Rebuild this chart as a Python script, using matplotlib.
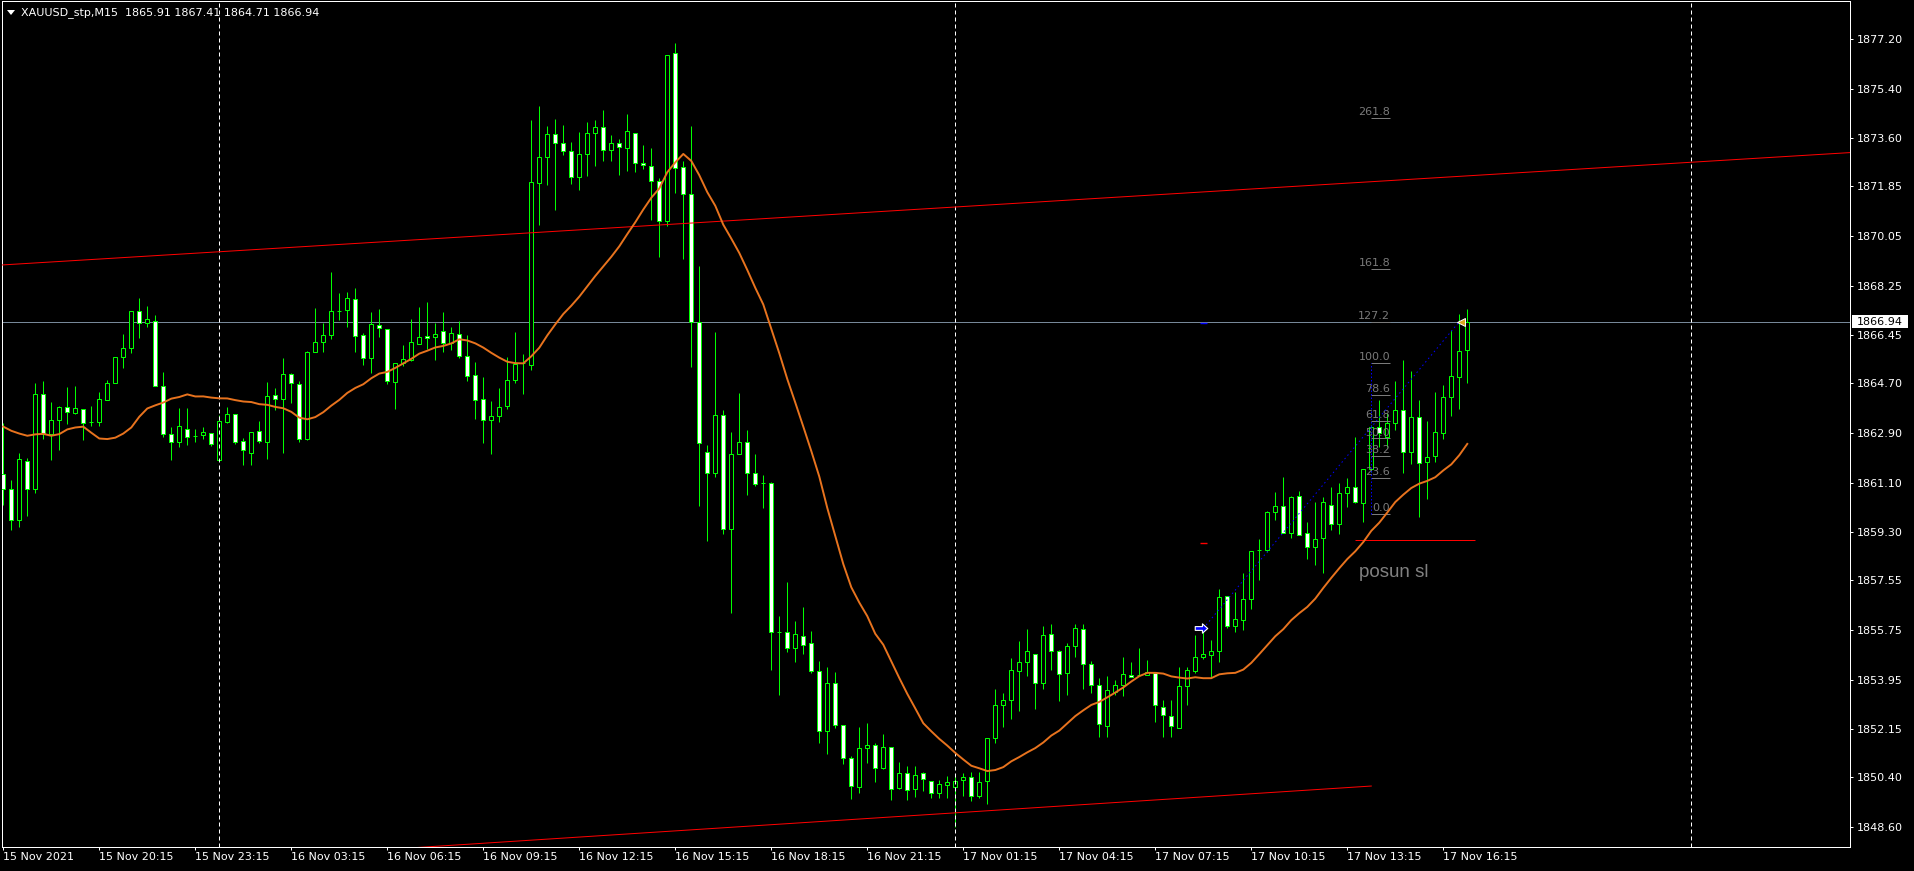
import datetime as dt
import numpy as np
import pandas as pd
import matplotlib
matplotlib.use("Agg")
import matplotlib.pyplot as plt
from matplotlib.path import Path
from matplotlib.patches import Polygon, Rectangle
from matplotlib.transforms import blended_transform_factory

plt.rcParams['font.family'] = ['DejaVu Sans']

# ---------------- data ----------------
symbol = "XAUUSD_stp"
timeframe = "M15"
first_bar_time = "2021-11-15 17:15"

opens = [
    1861.41, 1860.85, 1859.74, 1861.89, 1860.85, 1864.30, 1862.88, 1863.36, 1863.84, 1863.64,
    1863.76, 1863.31, 1863.31, 1864.08, 1864.70, 1865.64, 1866.00, 1867.31, 1866.88, 1866.97,
    1864.59, 1862.88, 1862.56, 1863.06, 1862.80, 1862.81, 1862.91, 1861.91, 1863.31, 1863.58,
    1862.60, 1862.19, 1862.96, 1862.56, 1864.27, 1864.12, 1865.03, 1864.67, 1862.69, 1865.83,
    1866.19, 1866.44, 1867.31, 1867.35, 1867.77, 1866.44, 1865.61, 1866.81, 1866.69, 1864.74,
    1865.45, 1865.55, 1866.14, 1866.41, 1866.37, 1866.59, 1866.15, 1866.48, 1865.68, 1864.99,
    1864.15, 1863.36, 1863.50, 1863.87, 1864.81, 1865.44, 1865.37, 1871.96, 1872.93, 1873.74,
    1873.44, 1873.12, 1872.18, 1873.01, 1873.78, 1874.02, 1873.18, 1873.44, 1873.25, 1873.80,
    1872.68, 1872.57, 1872.04, 1870.61, 1876.68, 1872.54, 1871.59, 1866.92, 1862.20, 1861.44,
    1863.54, 1859.40, 1862.12, 1862.56, 1861.44, 1861.07, 1861.07, 1855.67, 1855.67, 1855.09,
    1855.52, 1855.27, 1854.25, 1852.07, 1853.82, 1852.29, 1851.09, 1850.04, 1851.46, 1851.59,
    1850.76, 1851.49, 1850.01, 1850.55, 1849.97, 1850.55, 1850.29, 1849.83, 1850.12, 1850.07,
    1850.30, 1850.40, 1849.73, 1850.29, 1851.83, 1853.02, 1853.20, 1854.25, 1854.58, 1854.87,
    1853.82, 1855.59, 1854.98, 1854.18, 1855.16, 1855.78, 1854.51, 1853.74, 1852.26, 1853.49,
    1853.74, 1854.11, 1854.13, 1854.12, 1854.18, 1852.97, 1852.64, 1852.18, 1853.71, 1854.25,
    1854.76, 1854.85, 1854.99, 1856.99, 1855.90, 1856.12, 1856.87, 1858.66, 1858.66, 1860.02,
    1860.26, 1859.26, 1860.63, 1859.26, 1858.75, 1859.08, 1860.29, 1859.59, 1860.71, 1860.95,
    1860.35, 1861.58, 1863.13, 1862.77, 1863.25, 1863.74, 1862.22, 1863.47, 1861.86, 1862.08,
    1862.89, 1864.22, 1864.92, 1865.91]

highs = [
    1863.25, 1861.19, 1862.18, 1861.98, 1864.70, 1864.78, 1864.02, 1863.88, 1864.58, 1864.60,
    1863.76, 1863.88, 1864.39, 1864.82, 1865.64, 1866.49, 1867.31, 1867.80, 1867.51, 1867.17,
    1865.11, 1863.10, 1863.81, 1863.81, 1863.03, 1863.10, 1862.91, 1863.54, 1863.84, 1863.58,
    1862.72, 1862.92, 1863.33, 1864.75, 1864.54, 1865.61, 1865.07, 1864.79, 1865.88, 1867.42,
    1866.90, 1868.74, 1867.99, 1868.02, 1868.16, 1866.52, 1867.29, 1867.39, 1866.69, 1865.45,
    1866.08, 1867.02, 1867.47, 1867.65, 1866.88, 1867.29, 1866.73, 1866.95, 1866.44, 1865.46,
    1864.93, 1864.06, 1864.53, 1865.67, 1866.55, 1865.75, 1874.27, 1874.77, 1874.03, 1874.30,
    1874.07, 1873.45, 1873.82, 1874.18, 1874.26, 1874.62, 1873.71, 1873.55, 1874.47, 1873.80,
    1873.35, 1873.23, 1872.15, 1876.61, 1877.05, 1872.78, 1874.03, 1868.96, 1862.47, 1866.58,
    1863.73, 1862.92, 1864.34, 1863.01, 1862.14, 1861.36, 1861.12, 1856.26, 1857.48, 1856.08,
    1856.59, 1855.72, 1854.63, 1854.40, 1854.22, 1852.29, 1851.18, 1852.22, 1852.36, 1851.64,
    1851.97, 1851.49, 1850.95, 1850.82, 1850.82, 1850.61, 1850.29, 1850.31, 1850.46, 1850.49,
    1850.55, 1850.61, 1850.61, 1851.83, 1853.61, 1853.45, 1854.72, 1855.34, 1855.79, 1854.87,
    1855.90, 1855.97, 1855.03, 1855.27, 1855.97, 1855.97, 1854.61, 1854.00, 1854.07, 1853.92,
    1854.76, 1854.58, 1855.09, 1854.65, 1854.18, 1853.21, 1853.21, 1854.40, 1854.40, 1855.57,
    1855.96, 1855.39, 1857.24, 1856.99, 1857.14, 1857.83, 1858.63, 1859.04, 1860.08, 1860.75,
    1861.29, 1860.63, 1860.80, 1859.66, 1860.39, 1860.59, 1860.95, 1861.07, 1861.28, 1862.74,
    1861.58, 1863.20, 1864.10, 1863.61, 1864.80, 1865.55, 1865.16, 1864.10, 1863.34, 1864.38,
    1864.64, 1866.64, 1867.22, 1867.41]

lows = [
    1860.28, 1859.38, 1859.50, 1859.89, 1860.73, 1862.68, 1861.92, 1862.28, 1863.23, 1863.59,
    1862.64, 1863.15, 1863.15, 1864.08, 1864.70, 1865.27, 1865.79, 1866.36, 1866.76, 1864.59,
    1862.76, 1861.92, 1862.40, 1862.47, 1862.58, 1862.70, 1862.43, 1861.91, 1863.27, 1862.49,
    1861.75, 1861.75, 1862.55, 1861.97, 1863.73, 1862.19, 1864.00, 1862.59, 1862.63, 1865.83,
    1865.85, 1866.30, 1867.00, 1866.73, 1865.85, 1865.37, 1865.09, 1866.40, 1864.67, 1863.78,
    1865.33, 1865.52, 1866.14, 1865.94, 1865.54, 1865.85, 1865.91, 1865.61, 1864.79, 1863.41,
    1862.55, 1862.15, 1863.31, 1863.78, 1864.70, 1864.30, 1865.20, 1870.45, 1871.91, 1870.98,
    1872.98, 1871.94, 1871.72, 1872.23, 1872.59, 1872.78, 1872.77, 1872.25, 1872.42, 1872.38,
    1872.47, 1870.63, 1869.29, 1870.41, 1871.62, 1869.22, 1865.31, 1860.26, 1858.99, 1861.32,
    1859.22, 1856.38, 1862.12, 1860.66, 1860.99, 1860.19, 1854.30, 1853.41, 1854.97, 1854.60,
    1854.88, 1854.18, 1851.64, 1851.24, 1852.18, 1850.88, 1849.61, 1849.83, 1850.91, 1850.24,
    1850.71, 1849.58, 1849.97, 1849.58, 1849.68, 1849.92, 1849.64, 1849.64, 1849.64, 1848.62,
    1849.74, 1849.56, 1849.64, 1849.44, 1851.64, 1852.24, 1852.53, 1852.82, 1854.07, 1852.90,
    1853.62, 1854.31, 1853.19, 1853.40, 1854.76, 1853.60, 1853.48, 1851.86, 1851.86, 1853.38,
    1853.37, 1854.03, 1854.08, 1854.12, 1852.43, 1851.86, 1851.86, 1852.18, 1853.02, 1854.18,
    1854.69, 1854.06, 1854.58, 1855.84, 1855.69, 1855.75, 1856.50, 1857.57, 1858.60, 1859.74,
    1859.26, 1859.08, 1859.20, 1858.32, 1858.11, 1857.83, 1859.38, 1859.22, 1860.23, 1860.35,
    1859.66, 1861.50, 1862.40, 1862.40, 1863.01, 1861.44, 1861.78, 1859.86, 1860.51, 1861.86,
    1862.68, 1863.52, 1863.77, 1864.71]

closes = [
    1860.85, 1859.74, 1861.94, 1860.85, 1864.30, 1862.88, 1863.36, 1863.84, 1863.65, 1863.80,
    1863.27, 1863.31, 1864.15, 1864.70, 1865.64, 1866.00, 1867.31, 1866.88, 1867.02, 1864.59,
    1862.88, 1862.56, 1863.14, 1862.74, 1862.80, 1862.92, 1862.49, 1863.32, 1863.58, 1862.56,
    1862.27, 1862.92, 1862.60, 1864.23, 1864.12, 1865.03, 1864.70, 1862.67, 1865.83, 1866.19,
    1866.44, 1867.31, 1867.31, 1867.79, 1866.41, 1865.61, 1866.84, 1866.72, 1864.79, 1865.45,
    1865.57, 1866.19, 1866.40, 1866.34, 1866.48, 1866.15, 1866.52, 1865.68, 1864.96, 1864.10,
    1863.36, 1863.50, 1863.83, 1864.81, 1865.39, 1865.44, 1871.99, 1872.93, 1873.74, 1873.44,
    1873.12, 1872.18, 1873.01, 1873.78, 1874.02, 1873.16, 1873.44, 1873.27, 1873.84, 1872.69,
    1872.61, 1872.03, 1870.58, 1876.61, 1872.51, 1871.56, 1866.94, 1862.55, 1861.44, 1863.54,
    1859.40, 1862.12, 1862.56, 1861.44, 1861.06, 1861.07, 1855.67, 1855.67, 1855.09, 1855.59,
    1855.21, 1854.28, 1852.07, 1853.82, 1852.29, 1851.09, 1850.09, 1851.46, 1851.57, 1850.73,
    1851.49, 1849.97, 1850.55, 1849.93, 1850.49, 1850.33, 1849.83, 1850.15, 1850.22, 1850.29,
    1850.43, 1849.73, 1850.22, 1851.83, 1853.02, 1853.20, 1854.29, 1854.58, 1854.98, 1853.82,
    1855.56, 1854.98, 1854.14, 1855.16, 1855.81, 1854.51, 1853.74, 1852.33, 1853.56, 1853.74,
    1854.14, 1854.03, 1854.13, 1854.22, 1853.02, 1852.66, 1852.26, 1853.71, 1854.29, 1854.76,
    1854.87, 1854.99, 1856.94, 1855.90, 1856.14, 1856.87, 1858.63, 1858.66, 1860.02, 1860.26,
    1859.26, 1860.59, 1859.20, 1858.75, 1859.04, 1860.39, 1859.59, 1860.71, 1860.95, 1860.39,
    1861.58, 1863.12, 1862.89, 1863.25, 1863.74, 1862.22, 1863.47, 1861.82, 1862.02, 1862.93,
    1864.19, 1864.98, 1865.86, 1866.94]

# moving average (period 20 on close); first bars
ma_period = 20
ma_head = [1863.13, 1862.98, 1862.88, 1862.80, 1862.85, 1862.87, 1862.80, 1862.86, 1863.03,
           1863.10, 1863.13, 1862.91, 1862.70, 1862.68, 1862.73, 1862.88, 1863.10, 1863.49,
           1863.79]

price_tick_labels = ["1877.20", "1875.40", "1873.60", "1871.85", "1870.05", "1868.25",
                     "1866.45", "1864.70", "1862.90", "1861.10", "1859.30", "1857.55",
                     "1855.75", "1853.95", "1852.15", "1850.40", "1848.60"]

# drawn objects (bar index, price)
upper_channel = [(0, 1869.00), (183, 1872.23)]
lower_channel = [(40, 1847.64), (171, 1850.09)]
fib_levels = [0.0, 23.6, 38.2, 50.0, 61.8, 78.6, 100.0, 127.2, 161.8, 261.8]
fib_price_0 = 1859.96
fib_price_100 = 1865.45
fib_bars = (171.0, 173.35)
trade_open = (150.0, 1855.81)
trade_close = (182.0, 1866.94)
trade_sl = 1858.91
trade_tp = 1866.90
sl_note_line = (169.0, 184.0, 1859.02)
sl_note_text = "posun sl"
sl_note_pos = (169.5, 1857.69)

# ---------------- figure ----------------
W, H = 1914, 871
fig = plt.figure(figsize=(W / 100, H / 100), dpi=100, facecolor='black')
ax = fig.add_axes([2 / W, 24 / H, 1848 / W, 846 / H])
ax.set_facecolor('black')
ax.set_xlim(-0.1625, 230.84)
ax.set_ylim(1847.878, 1878.575)

o = np.array(opens); h = np.array(highs); l = np.array(lows); c = np.array(closes)
n = len(c)
x = np.arange(n)
bull = c >= o
top = np.maximum(o, c)
bot = np.minimum(o, c)

GREEN = '#00FF00'
PX = 0.72  # one pixel in points

# timeline (15-minute bars, daily break 00:00-01:00)
t0 = dt.datetime.strptime(first_bar_time, "%Y-%m-%d %H:%M")
times = []
t = t0
for _ in range(240):
    times.append(t)
    t += dt.timedelta(minutes=15)
    if t.hour == 0:
        t = t.replace(hour=1, minute=0)

separators = [i for i in range(1, len(times)) if times[i].date() != times[i - 1].date()]
for s in separators:
    ax.axvline(s, color='white', lw=PX, linestyle=(0, (4, 3)), zorder=4.5)

# candles
ax.vlines(x, top, h, color=GREEN, lw=PX, zorder=3)
ax.vlines(x, l, bot, color=GREEN, lw=PX, zorder=3)
ax.bar(x, top - bot, bottom=bot, width=0.5,
       color=np.where(bull, 'black', 'white'), edgecolor=GREEN, linewidth=PX, zorder=4)

# moving average
ma = pd.Series(c).rolling(ma_period).mean().to_numpy()
ma[:len(ma_head)] = ma_head
ax.plot(x, ma, color='#E8731E', lw=1.4, zorder=6)

# channel lines
xl = ax.get_xlim()
(ax0, ay0), (ax1, ay1) = upper_channel
slope = (ay1 - ay0) / (ax1 - ax0)
ax.plot([xl[0], xl[1]], [ay0 + slope * (xl[0] - ax0), ay0 + slope * (xl[1] - ax0)],
        color='#FF0000', lw=PX, zorder=5)
(bx0, by0), (bx1, by1) = lower_channel
ax.plot([bx0, bx1], [by0, by1], color='#FF0000', lw=PX, zorder=5)

# bid line
bid = c[-1]
ax.axhline(bid, color='#778899', lw=PX, zorder=2)

# fibonacci
FIBC = '#7a7a7a'
for lvl in fib_levels:
    p = fib_price_0 + (fib_price_100 - fib_price_0) * lvl / 100.0
    ax.hlines(p, fib_bars[0], fib_bars[1], color=FIBC, lw=PX, zorder=5)
    ax.text(fib_bars[1], p + 0.03, f"{lvl:.1f}", ha='right', va='bottom', color=FIBC,
            fontsize=8, zorder=5)
ax.vlines(fib_bars[0], fib_price_0, fib_price_100, color='#0000FF', lw=PX,
          linestyle=(0, (1.5, 2)), zorder=5)

# trade
ax.plot([trade_open[0], trade_close[0]], [trade_open[1], trade_close[1]],
        color='#0000FF', lw=PX, linestyle=(0, (1.5, 3)), zorder=6)
ax.hlines(trade_tp, trade_open[0] - 0.45, trade_open[0] + 0.45, color='#0000FF', lw=1, zorder=6)
ax.hlines(trade_sl, trade_open[0] - 0.45, trade_open[0] + 0.45, color='#FF0000', lw=1, zorder=6)
arrow = Path([(-1, -0.3), (0.15, -0.3), (0.15, -0.75), (1, 0), (0.15, 0.75), (0.15, 0.3),
              (-1, 0.3), (-1, -0.3)],
             [Path.MOVETO] + [Path.LINETO] * 6 + [Path.CLOSEPOLY])
ax.plot(trade_open[0] - 0.3, trade_open[1], marker=arrow, ms=9, mfc='#0000FF',
        mec='white', mew=0.8, zorder=7)
ax.plot(trade_close[0] + 0.2, trade_close[1], marker='<', ms=6, mfc='#DAA520',
        mec='white', mew=0.7, zorder=7)

# note
ax.hlines(sl_note_line[2], sl_note_line[0], sl_note_line[1], color='#FF0000', lw=PX, zorder=5)
ax.text(sl_note_pos[0], sl_note_pos[1], sl_note_text, color='#808080', fontsize=13.5,
        family=['Liberation Sans', 'DejaVu Sans'], ha='left', va='baseline', zorder=5)

# axes styling
for sp in ax.spines.values():
    sp.set_color('white')
    sp.set_linewidth(PX)

ax.yaxis.tick_right()
ax.set_yticks([float(v) for v in price_tick_labels])
ax.set_yticklabels(price_tick_labels)
ax.tick_params(axis='y', colors='white', length=2.2, width=PX, pad=3, labelsize=8)

tick_idx = list(range(0, n, 12))
tick_lab = [times[i].strftime("%d %b %Y") if i == 0 else times[i].strftime("%d %b %H:%M")
            for i in tick_idx]
ax.set_xticks(tick_idx)
ax.set_xticklabels(tick_lab)
ax.tick_params(axis='x', colors='white', length=2.2, width=PX, pad=1.2, labelsize=8)
for lab in ax.get_xticklabels():
    lab.set_horizontalalignment('left')

# bid price label on the price axis
trans = blended_transform_factory(fig.transFigure, ax.transData)
ax.add_patch(Rectangle((1852 / W, bid - 0.235), 56 / W, 0.47, transform=trans,
                       facecolor='white', edgecolor='none', clip_on=False, zorder=10))
ax.text(1856.5 / W, bid, f"{bid:.2f}", transform=trans, ha='left', va='center',
        color='black', fontsize=8, clip_on=False, zorder=11)

# header
fig.patches.append(Polygon([(7 / W, 1 - 10 / H), (15 / W, 1 - 10 / H), (11 / W, 1 - 15 / H)],
                           closed=True, transform=fig.transFigure, facecolor='white',
                           edgecolor='none'))
header = f"{symbol},{timeframe}  {opens[-1]:.2f} {highs[-1]:.2f} {lows[-1]:.2f} {closes[-1]:.2f}"
fig.text(21 / W, 1 - 12.5 / H, header, color='white', fontsize=8, ha='left', va='center')

fig.savefig("out.png", dpi=100, facecolor='black')
